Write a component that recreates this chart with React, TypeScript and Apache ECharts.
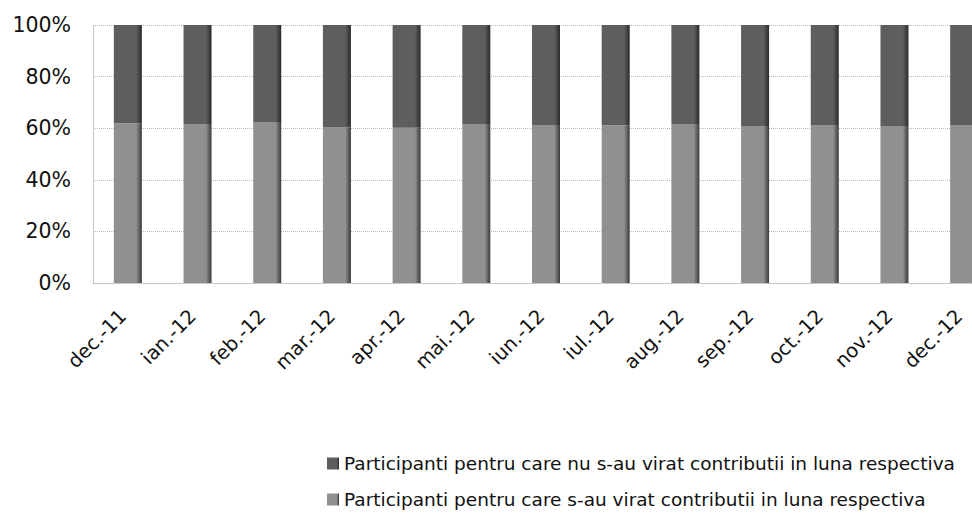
import React, { useEffect, useRef } from "react";
import * as echarts from "echarts";

const categories = ["dec.-11", "ian.-12", "feb.-12", "mar.-12", "apr.-12", "mai.-12", "iun.-12", "iul.-12", "aug.-12", "sep.-12", "oct.-12", "nov.-12", "dec.-12"];
const withContrib = [61.9, 61.6, 62.4, 60.3, 60.2, 61.6, 61.2, 61.1, 61.6, 60.9, 61.2, 60.9, 61.2];
const withoutContrib = [38.1, 38.4, 37.6, 39.7, 39.8, 38.4, 38.8, 38.9, 38.4, 39.1, 38.8, 39.1, 38.8];
const seriesNames = [
  "Participanti pentru care nu s-au virat contributii in luna respectiva",
  "Participanti pentru care s-au virat contributii in luna respectiva",
];

export default function App() {
  const ref = useRef<HTMLDivElement>(null);
  useEffect(() => {
    if (!ref.current) return;
    const chart = echarts.init(ref.current, undefined, { renderer: "svg" });
    const font = "DejaVu Sans";
    const grad = (a: string, b: string) =>
      new echarts.graphic.LinearGradient(0, 0, 1, 0, [
        { offset: 0, color: a },
        { offset: 0.8, color: a },
        { offset: 1, color: b },
      ]);
    chart.setOption({
      animation: false,
      grid: { left: 93, top: 25, right: 11, height: 258 },
      legend: {
        orient: "vertical",
        left: 322,
        top: 449,
        itemWidth: 12,
        itemHeight: 12,
        itemGap: 17,
        icon: "rect",
        textStyle: { fontFamily: font, fontSize: 18.5, color: "#111" },
        data: [seriesNames[0], seriesNames[1]],
      },
      xAxis: {
        type: "category",
        data: categories,
        axisLine: { show: true, lineStyle: { color: "#bbb", type: "dotted" } },
        axisTick: { show: false },
        axisLabel: { rotate: 45, fontFamily: font, fontSize: 19.5, color: "#111", margin: 25, padding: [0, 7, 0, 0] },
      },
      yAxis: {
        type: "value",
        min: 0,
        max: 100,
        interval: 20,
        axisLine: { show: true, lineStyle: { color: "#bbb", type: "dotted" } },
        axisTick: { show: false },
        splitLine: { show: true, lineStyle: { color: "#bbb", type: "dotted" } },
        axisLabel: { formatter: "{value}%", fontFamily: font, fontSize: 20.5, color: "#111", margin: 22 },
      },
      series: [
        {
          name: seriesNames[1],
          type: "bar",
          stack: "total",
          barWidth: 28,
          data: withContrib,
          itemStyle: { color: grad("#909090", "#3a3a3a") },
        },
        {
          name: seriesNames[0],
          type: "bar",
          stack: "total",
          barWidth: 28,
          data: withoutContrib,
          itemStyle: { color: grad("#5e5e5e", "#2a2a2a") },
        },
      ],
    });
    return () => chart.dispose();
  }, []);
  return (
    <div style={{ position: "fixed", left: 0, top: 0, width: 972, height: 517, overflow: "hidden", background: "#fff" }}>
      <div ref={ref} style={{ width: 1010, height: 517 }} />
    </div>
  );
}
